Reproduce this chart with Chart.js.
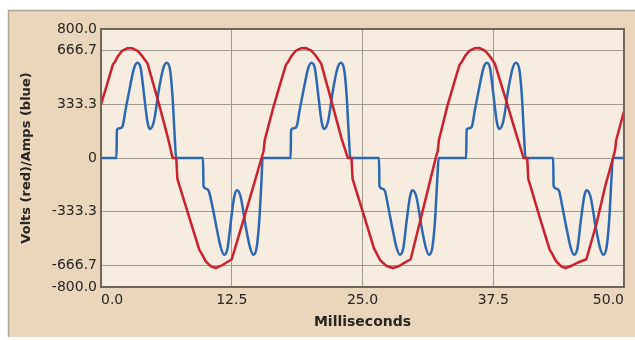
<!DOCTYPE html>
<html>
<head>
<meta charset="utf-8">
<script src="https://cdn.jsdelivr.net/npm/chart.js@4/dist/chart.umd.min.js"></script>
<style>
    html, body { margin: 0; padding: 0; background: #ffffff; }
    #wrap { width: 635px; height: 340px; }
</style>
</head>
<body>
<div id="wrap"><canvas id="waveChart"></canvas></div>
<script>
/************************
 *      Resource
 ************************/
const X_TICKS = [0, 12.5, 25, 37.5, 50]
const Y_TICKS = [-800, -666.7, -333.3, 0, 333.3, 666.7, 800]

// red trace - volts, time in ms
const VOLT_TIME = [
    0, 0.5, 1.0, 1.15, 1.3, 1.6, 2.0, 2.5, 3.0, 3.5, 3.9, 4.3, 4.45, 5.5, 6.3, 6.85, 7.2, 7.3,
    8.4, 9.4, 9.6, 10.0, 10.5, 11.0, 11.5, 12.0, 12.5, 13.5, 14.5, 15.35,
    15.55, 15.65, 16.5, 17.5, 17.7, 17.85, 18.2, 18.6, 19.1, 19.6, 20.1, 20.5, 20.9, 21.05,
    22.0, 23.0, 23.6, 23.95, 24.05, 25.2, 26.1, 26.3, 26.7, 27.3, 27.9, 28.5, 29.0, 29.6,
    30.4, 31.2, 32.0,
    32.2, 32.3, 33.1, 34.1, 34.3, 34.45, 34.8, 35.2, 35.7, 36.2, 36.7, 37.1, 37.5, 37.65,
    38.6, 39.5, 40.4, 40.75, 40.85, 42.0, 42.9, 43.1, 43.5, 44.0, 44.4, 45.0, 45.6, 46.4,
    47.4, 48.2, 48.95, 49.15, 49.25, 50.0
]
const VOLT_VALUES = [
    333, 440, 550, 582, 592, 630, 664, 680, 680, 665, 635, 600, 585, 345, 150, 0, 0, -130,
    -360, -570, -590, -640, -672, -682, -668, -648, -628, -410, -190, 0,
    45, 110, 320, 540, 580, 592, 632, 664, 680, 682, 666, 637, 600, 585,
    360, 120, 0, 0, -130, -370, -560, -585, -635, -670, -682, -670, -650, -628,
    -420, -210, 0,
    45, 110, 320, 540, 580, 592, 632, 664, 680, 682, 666, 637, 600, 585,
    385, 190, 0, 0, -130, -380, -570, -590, -640, -672, -682, -668, -648, -628,
    -400, -175, 0, 50, 110, 290
]

// blue trace - amps, time in ms
const AMP_TIME = [
    0, 1.48, 1.52, 1.8, 2.05, 2.35, 2.8, 3.15, 3.48, 3.8, 4.12, 4.44, 4.66, 5.05, 5.55, 5.95,
    6.26, 6.58, 6.83, 7.05, 7.18,
    9.75, 9.8, 10.05, 10.3, 10.65, 11.1, 11.45, 11.78, 12.1, 12.42, 12.74, 13.0, 13.35, 13.85,
    14.25, 14.56, 14.88, 15.13, 15.35, 15.45,
    18.13, 18.17, 18.45, 18.7, 19.0, 19.45, 19.8, 20.13, 20.45, 20.77, 21.09, 21.31, 21.7,
    22.2, 22.6, 22.91, 23.23, 23.48, 23.7, 23.83,
    26.58, 26.62, 26.9, 27.15, 27.45, 27.9, 28.25, 28.58, 28.9, 29.22, 29.54, 29.76, 30.15,
    30.65, 31.05, 31.36, 31.68, 31.93, 32.15, 32.28,
    34.91, 34.95, 35.2, 35.45, 35.75, 36.2, 36.55, 36.88, 37.2, 37.52, 37.84, 38.06, 38.45,
    38.95, 39.35, 39.66, 39.98, 40.23, 40.45, 40.58,
    43.23, 43.27, 43.55, 43.8, 44.1, 44.55, 44.9, 45.23, 45.55, 45.87, 46.19, 46.41, 46.8,
    47.3, 47.7, 48.01, 48.33, 48.58, 48.8, 48.93, 50.0
]
const AMP_VALUES = [
    0, 0, 175, 185, 195, 300, 450, 555, 590, 555, 390, 225, 180, 225, 430, 555,
    590, 555, 390, 130, 0,
    0, -175, -190, -205, -300, -450, -555, -600, -560, -390, -240, -200, -240, -430,
    -555, -600, -555, -390, -130, 0,
    0, 175, 185, 195, 300, 450, 555, 590, 555, 390, 225, 180, 225,
    430, 555, 590, 555, 390, 130, 0,
    0, -175, -190, -205, -300, -450, -555, -600, -560, -390, -240, -200, -240,
    -430, -555, -600, -555, -390, -130, 0,
    0, 175, 185, 195, 300, 450, 555, 590, 555, 390, 225, 180, 225,
    430, 555, 590, 555, 390, 130, 0,
    0, -175, -190, -205, -300, -450, -555, -600, -560, -390, -240, -200, -240,
    -430, -555, -600, -555, -390, -130, 0, 0
]

const PANEL_COLOR = "rgb(233, 214, 187)"
const PLOT_COLOR = "rgb(246, 236, 224)"
const FRAME_COLOR = "rgb(110, 102, 88)"
const GRID_COLOR = "rgb(160, 154, 144)"
const TEXT_COLOR = "rgb(40, 36, 32)"

/************************
 *      Method
 ************************/
const toPoints = (times, values) => times.map((t, i) => ({ x: t, y: values[i] }))

const fmtY = (v) => v === 0 ? "0" : v.toFixed(1)

// tan panel behind everything, cream plot box, frame on top
const panelPlugin = {
    id: "panel",
    beforeDraw: (chart) => {
        const ctx = chart.ctx
        const area = chart.chartArea
        ctx.save()
        ctx.fillStyle = PANEL_COLOR
        ctx.fillRect(8, 10, chart.width - 8, chart.height - 13)
        ctx.strokeStyle = "rgb(175, 165, 150)"
        ctx.lineWidth = 1.5
        ctx.beginPath()
        ctx.moveTo(8.5, chart.height - 3)
        ctx.lineTo(8.5, 10.5)
        ctx.lineTo(chart.width, 10.5)
        ctx.stroke()
        ctx.fillStyle = PLOT_COLOR
        ctx.fillRect(area.left, area.top, area.right - area.left, area.bottom - area.top)
        ctx.restore()
    },
    afterDraw: (chart) => {
        const ctx = chart.ctx
        const area = chart.chartArea
        ctx.save()
        ctx.strokeStyle = FRAME_COLOR
        ctx.lineWidth = 2
        ctx.strokeRect(area.left, area.top, area.right - area.left, area.bottom - area.top)
        ctx.restore()
    }
}

const createChart = () => {
    new Chart("waveChart", {
        type: "line",
        data: {
            datasets: [{
                // volts: mostly straight ramps, so no smoothing
                label: "Volts",
                data: toPoints(VOLT_TIME, VOLT_VALUES),
                borderColor: "rgb(204, 32, 44)",
                borderWidth: 2.5,
                borderJoinStyle: "round",
                pointRadius: 0,
                tension: 0
            }, {
                label: "Amps",
                data: toPoints(AMP_TIME, AMP_VALUES),
                borderColor: "rgb(44, 104, 178)",
                borderWidth: 2.5,
                pointRadius: 0,
                cubicInterpolationMode: "monotone"
            }]
        },
        options: {
            responsive: true,
            maintainAspectRatio: false,
            animation: false,
            events: [],
            layout: { padding: { top: 29, right: 11, left: 0, bottom: 0 } },
            plugins: {
                legend: { display: false },
                tooltip: { enabled: false }
            },
            scales: {
                x: {
                    type: "linear",
                    min: 0,
                    max: 50,
                    afterBuildTicks: (axis) => { axis.ticks = X_TICKS.map(v => ({ value: v })) },
                    afterFit: (axis) => {
                        axis.height = 53
                        axis.paddingLeft = 0
                        axis.paddingRight = 0
                    },
                    grid: { color: GRID_COLOR, lineWidth: 1, drawTicks: false },
                    border: { display: false },
                    ticks: {
                        align: "inner",
                        padding: 5,
                        color: TEXT_COLOR,
                        font: { family: "DejaVu Sans", size: 14 },
                        callback: (v) => Number(v).toFixed(1)
                    },
                    title: {
                        display: true,
                        text: "Milliseconds",
                        color: TEXT_COLOR,
                        font: { family: "DejaVu Sans", size: 14, weight: "bold" },
                        padding: { top: 0, bottom: 9 }
                    }
                },
                y: {
                    type: "linear",
                    min: -800,
                    max: 800,
                    afterBuildTicks: (axis) => { axis.ticks = Y_TICKS.map(v => ({ value: v })) },
                    afterFit: (axis) => { axis.width = 101 },
                    grid: { color: GRID_COLOR, lineWidth: 1, drawTicks: false },
                    border: { display: false },
                    ticks: {
                        padding: 4,
                        color: TEXT_COLOR,
                        font: { family: "DejaVu Sans", size: 14 },
                        callback: (v) => fmtY(v)
                    },
                    title: {
                        display: true,
                        text: "Volts (red)/Amps (blue)",
                        color: TEXT_COLOR,
                        font: { family: "DejaVu Sans", size: 13, weight: "bold" },
                        padding: { top: 19, bottom: 0 }
                    }
                }
            }
        },
        plugins: [panelPlugin]
    })
}

createChart()
</script>
</body>
</html>
